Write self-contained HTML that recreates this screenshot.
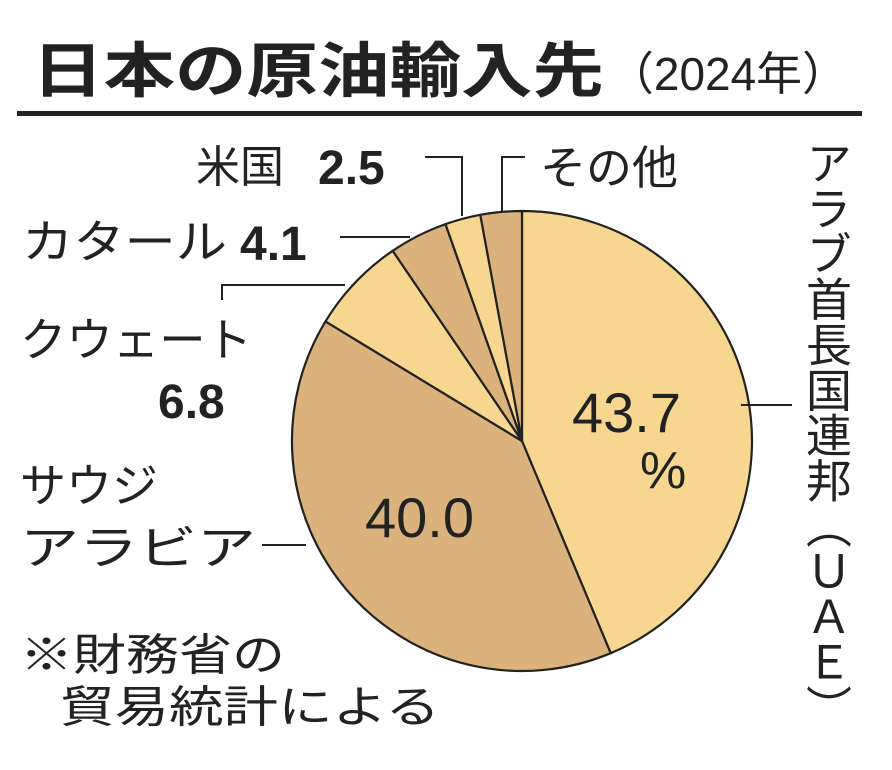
<!DOCTYPE html>
<html><head><meta charset="utf-8"><style>
html,body{margin:0;padding:0;background:#fff;}
svg{display:block;}
text{font-family:"Liberation Sans","Noto Sans CJK JP",sans-serif;fill:#222;}
</style></head><body>
<svg width="892" height="770" viewBox="0 0 892 770" xmlns="http://www.w3.org/2000/svg">
<text x="32" y="92" font-size="60" font-weight="bold" textLength="572" lengthAdjust="spacingAndGlyphs">日本の原油輸入先</text>
<text x="608" y="90" font-size="46" textLength="240" lengthAdjust="spacingAndGlyphs">（2024年）</text>
<rect x="17" y="111" width="845" height="5" fill="#222"/>
<g stroke="#222" stroke-width="2.2" stroke-linejoin="round">
<path d="M522,441 L522,211 A230,230 0 0 1 610.7,653.2 Z" fill="#f7d78f"/>
<path d="M522,441 L610.7,653.2 A230,230 0 0 1 325.5,321.4 Z" fill="#dbb27b"/>
<path d="M522,441 L325.5,321.4 A230,230 0 0 1 392.7,250.8 Z" fill="#f7d78f"/>
<path d="M522,441 L392.7,250.8 A230,230 0 0 1 445.5,224.1 Z" fill="#dbb27b"/>
<path d="M522,441 L445.5,224.1 A230,230 0 0 1 480.3,214.8 Z" fill="#f7d78f"/>
<path d="M522,441 L480.3,214.8 A230,230 0 0 1 522,211 Z" fill="#dbb27b"/>
</g>
<g stroke="#222" stroke-width="2" fill="none">
<polyline points="425,157 462,157 462,216"/>
<polyline points="525,157 502,157 502,212"/>
<line x1="340" y1="237" x2="410" y2="237"/>
<polyline points="222,300 222,285 345,285"/>
<line x1="262" y1="545" x2="306" y2="545"/>
<line x1="741" y1="405" x2="792" y2="405"/>
</g>
<text x="196" y="182" font-size="44">米国</text>
<text x="318" y="184" font-size="48" font-weight="bold">2.5</text>
<text x="540" y="184" font-size="46">その他</text>
<text x="22" y="258" font-size="46" textLength="205" lengthAdjust="spacingAndGlyphs">カタール</text>
<text x="240" y="260" font-size="48" font-weight="bold">4.1</text>
<text x="20" y="356" font-size="46" textLength="232" lengthAdjust="spacingAndGlyphs">クウェート</text>
<text x="158" y="418" font-size="48" font-weight="bold">6.8</text>
<text x="20" y="502" font-size="46">サウジ</text>
<text x="20" y="564" font-size="46" textLength="236" lengthAdjust="spacingAndGlyphs">アラビア</text>
<text x="572" y="432" font-size="56">43.7</text>
<text x="640" y="488" font-size="52">%</text>
<text x="365" y="537" font-size="56">40.0</text>
<text x="20" y="670" font-size="44" textLength="265" lengthAdjust="spacingAndGlyphs">※財務省の</text>
<text x="60" y="722" font-size="44" textLength="380" lengthAdjust="spacingAndGlyphs">貿易統計による</text>
<text x="826" y="140" font-size="46" writing-mode="tb" glyph-orientation-vertical="0" textLength="590" lengthAdjust="spacingAndGlyphs">アラブ首長国連邦（ＵＡＥ）</text>
</svg>
</body></html>
